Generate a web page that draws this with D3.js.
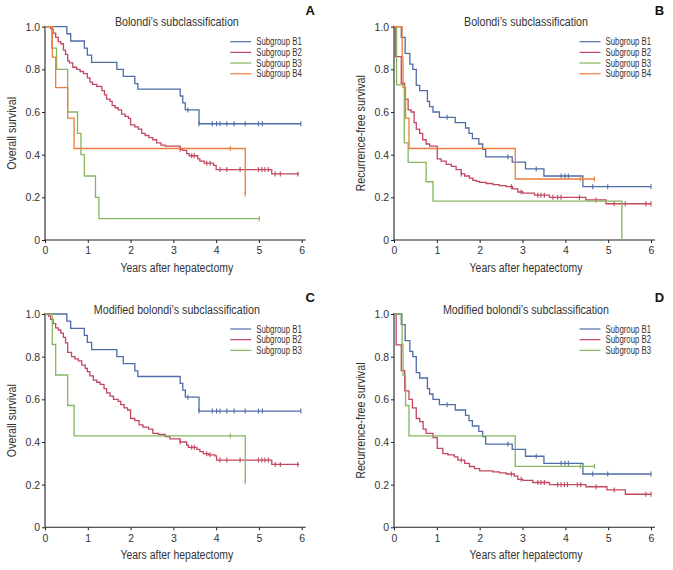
<!DOCTYPE html>
<html>
<head>
<meta charset="utf-8">
<script src="https://cdn.jsdelivr.net/npm/d3@7"></script>
<style>
  body { margin: 0; background: #fff; }
  svg text { font-family: "Liberation Sans", Arial, sans-serif; fill: #333; }
</style>
</head>
<body>
<div id="chart"></div>
<script>
// KM step points [years, survival]; last pair = end of follow-up
var A_B1 = [[0,1],[0.51,0.967],[0.6,0.933],[0.92,0.9],[0.99,0.867],[1.09,0.833],[1.68,0.8],[1.83,0.767],[2.1,0.733],[2.17,0.707],[3.16,0.675],[3.22,0.643],[3.28,0.61],[3.6,0.545],[5.98,0.545]];
var A_B1_cens = [3.34,3.6,3.91,4.01,4.09,4.25,4.42,4.68,4.99,5.08,5.98];

var A_B2 = [[0,1],[0.13,0.99],[0.19,0.97],[0.25,0.95],[0.31,0.93],[0.37,0.92],[0.43,0.89],[0.48,0.87],[0.53,0.84],[0.57,0.83],[0.65,0.81],[0.74,0.80],[0.82,0.79],[0.90,0.78],[0.99,0.76],[1.05,0.74],[1.11,0.73],[1.21,0.72],[1.33,0.70],[1.39,0.68],[1.44,0.66],[1.52,0.65],[1.57,0.63],[1.64,0.62],[1.71,0.61],[1.79,0.59],[1.87,0.58],[1.95,0.57],[2.0,0.54],[2.1,0.53],[2.18,0.52],[2.26,0.50],[2.34,0.49],[2.43,0.48],[2.52,0.47],[2.61,0.455],[2.71,0.445],[2.81,0.44],[3.16,0.425],[3.22,0.42],[3.31,0.405],[3.37,0.395],[3.57,0.38],[3.62,0.37],[3.72,0.36],[3.94,0.35],[4.0,0.33],[5.3,0.31],[5.94,0.31]];
var A_B2_cens = [3.16,3.43,3.49,3.78,3.86,4.09,4.25,4.56,4.99,5.07,5.14,5.22,5.38,5.5,5.91];

var A_B3 = [[0,1],[0.16,0.9],[0.27,0.8],[0.53,0.6],[0.76,0.5],[0.84,0.4],[0.92,0.3],[1.18,0.2],[1.26,0.1],[5.01,0.1]];
var A_B3_cens = [5.01];

var A_B4 = [[0,1],[0.17,0.857],[0.25,0.714],[0.53,0.571],[0.68,0.429],[4.68,0.214]];
var A_B4_cens = [4.33,4.68];

var B_B1 = [[0,1],[0.17,0.95],[0.26,0.875],[0.37,0.825],[0.44,0.80],[0.52,0.725],[0.6,0.70],[0.78,0.65],[0.83,0.625],[0.91,0.60],[1.06,0.575],[1.43,0.55],[1.67,0.525],[1.75,0.50],[1.83,0.475],[1.98,0.45],[2.07,0.425],[2.14,0.39],[2.76,0.365],[3.07,0.333],[3.5,0.30],[4.41,0.25],[6.0,0.25]];
var B_B1_cens = [1.24,2.66,3.32,3.9,3.99,4.07,4.64,4.99,6.0];

var B_B2 = [[0,1],[0.03,0.86],[0.17,0.735],[0.25,0.66],[0.33,0.61],[0.40,0.60],[0.47,0.55],[0.52,0.52],[0.6,0.50],[0.67,0.47],[0.75,0.45],[0.83,0.44],[1.01,0.38],[1.1,0.37],[1.22,0.355],[1.34,0.345],[1.45,0.33],[1.57,0.31],[1.65,0.30],[1.76,0.29],[1.84,0.28],[1.92,0.275],[2.0,0.27],[2.15,0.265],[2.31,0.26],[2.46,0.255],[2.62,0.25],[2.77,0.24],[2.89,0.225],[3.01,0.22],[3.28,0.21],[3.63,0.20],[4.48,0.188],[4.95,0.17],[6.0,0.17]];
var B_B2_cens = [1.57,2.74,2.97,3.36,3.43,3.51,3.71,3.82,3.9,4.33,4.72,5.14,5.4,5.88,6.0];

var B_B3 = [[0,1],[0.06,0.727],[0.24,0.455],[0.33,0.364],[0.75,0.273],[0.91,0.182],[5.32,0]];
var B_B3_cens = [];

var B_B4 = [[0,1],[0.19,0.857],[0.21,0.714],[0.27,0.571],[0.35,0.429],[2.83,0.286],[4.68,0.286]];
var B_B4_cens = [4.35,4.68];

var C_B2 = [[0,1],[0.08,0.99],[0.13,0.975],[0.19,0.955],[0.25,0.935],[0.31,0.925],[0.37,0.91],[0.43,0.89],[0.48,0.865],[0.53,0.82],[0.62,0.80],[0.70,0.79],[0.78,0.78],[0.86,0.76],[0.94,0.745],[0.99,0.73],[1.05,0.71],[1.13,0.69],[1.21,0.68],[1.29,0.67],[1.38,0.65],[1.44,0.63],[1.52,0.615],[1.60,0.60],[1.71,0.59],[1.77,0.575],[1.85,0.56],[1.93,0.55],[2.0,0.51],[2.1,0.50],[2.2,0.48],[2.29,0.47],[2.42,0.46],[2.52,0.44],[2.65,0.435],[2.81,0.425],[2.92,0.415],[3.16,0.40],[3.31,0.385],[3.35,0.375],[3.55,0.365],[3.62,0.355],[3.70,0.345],[3.82,0.34],[3.97,0.335],[4.01,0.315],[5.3,0.295],[5.94,0.295]];
var C_B2_cens = [3.16,3.43,3.49,3.78,3.86,4.09,4.25,4.56,4.99,5.07,5.14,5.22,5.38,5.5,5.91];

var D_B2 = [[0,1],[0.05,0.855],[0.17,0.735],[0.25,0.64],[0.35,0.60],[0.43,0.56],[0.52,0.51],[0.6,0.495],[0.68,0.46],[0.75,0.44],[0.91,0.42],[1.01,0.37],[1.14,0.345],[1.26,0.34],[1.41,0.33],[1.49,0.315],[1.65,0.30],[1.76,0.285],[1.88,0.275],[2.0,0.265],[2.31,0.26],[2.46,0.255],[2.62,0.25],[2.81,0.24],[2.89,0.225],[3.01,0.22],[3.24,0.21],[3.63,0.20],[4.48,0.19],[4.97,0.175],[5.4,0.155],[6.0,0.155]];
var D_B2_cens = [1.57,2.74,2.97,3.36,3.43,3.51,3.82,3.9,3.98,4.05,4.28,4.36,4.72,5.14,5.88,6.0];

var xTicks = [0,1,2,3,4,5,6];
var yTicks = [0,0.2,0.4,0.6,0.8,1.0];

var titleOld = "Bolondi\u2019s subclassification";
var titleNew = "Modified bolondi\u2019s subclassification";
var labelOS = "Overall survival";
var labelRFS = "Recurrence-free survival";
var labelX = "Years after hepatectomy";

var blue = "#4f6ca7", red = "#c2475f", green = "#86b660", orange = "#ef7c3b";

var panels = [
  {letter: "A", left: 45, right: 301.7, top: 26.7, bottom: 240, title: titleOld, ylab: labelOS,
   series: [["Subgroup B1", A_B1, A_B1_cens, blue], ["Subgroup B2", A_B2, A_B2_cens, red],
            ["Subgroup B3", A_B3, A_B3_cens, green], ["Subgroup B4", A_B4, A_B4_cens, orange]]},
  {letter: "B", left: 394, right: 651, top: 26.7, bottom: 240, title: titleOld, ylab: labelRFS,
   series: [["Subgroup B1", B_B1, B_B1_cens, blue], ["Subgroup B2", B_B2, B_B2_cens, red],
            ["Subgroup B3", B_B3, B_B3_cens, green], ["Subgroup B4", B_B4, B_B4_cens, orange]]},
  {letter: "C", left: 45, right: 301.7, top: 314, bottom: 527.3, title: titleNew, ylab: labelOS,
   series: [["Subgroup B1", A_B1, A_B1_cens, blue], ["Subgroup B2", C_B2, C_B2_cens, red],
            ["Subgroup B3", A_B4, A_B4_cens, green]]},
  {letter: "D", left: 394, right: 651, top: 314, bottom: 527.3, title: titleNew, ylab: labelRFS,
   series: [["Subgroup B1", B_B1, B_B1_cens, blue], ["Subgroup B2", D_B2, D_B2_cens, red],
            ["Subgroup B3", B_B4, B_B4_cens, green]]}
];

var svg = d3.select("#chart").append("svg")
  .attr("width", 673)
  .attr("height", 570);

svg.append("rect").attr("width", 673).attr("height", 570).attr("fill", "#fff");

function survAt(steps, t) {
  var v = steps[0][1];
  steps.forEach(function(p) { if (p[0] <= t) v = p[1]; });
  return v;
}

// the original uses a condensed face; squeeze the text horizontally
function squeeze(sel, f) {
  sel.each(function() {
    var w = this.getComputedTextLength();
    d3.select(this).attr("textLength", w * f).attr("lengthAdjust", "spacingAndGlyphs");
  });
}

panels.forEach(function(p) {
  var x = d3.scaleLinear().domain([0, 6]).range([p.left, p.right]);
  var y = d3.scaleLinear().domain([0, 1]).range([p.bottom, p.top]);
  var g = svg.append("g");

  // axes
  var xAxis = g.append("g")
    .attr("transform", `translate(0, ${p.bottom})`)
    .call(d3.axisBottom(x).tickValues(xTicks).tickSize(3).tickPadding(3.8).tickFormat(d3.format("d")));
  xAxis.select(".domain").remove();
  xAxis.append("line")
    .attr("x1", p.left).attr("x2", p.right + 4)
    .attr("stroke", "#222").attr("stroke-width", 1.1);

  var yAxis = g.append("g")
    .attr("transform", `translate(${p.left}, 0)`)
    .call(d3.axisLeft(y).tickValues(yTicks).tickSize(3).tickPadding(1.8)
      .tickFormat(function(d) { return d === 0 ? "0" : d.toFixed(1); }));
  yAxis.select(".domain").remove();
  yAxis.append("line")
    .attr("y1", p.bottom).attr("y2", p.top - 1)
    .attr("stroke", "#222").attr("stroke-width", 1.1);

  g.selectAll(".tick line").attr("stroke", "#222");
  g.selectAll(".tick text")
    .attr("font-size", "10.5px")
    .attr("fill", "#444");

  // titles and labels
  var cx = (p.left + p.right) / 2 + 3.5;
  g.append("text")
    .attr("x", cx).attr("y", p.top - 0.3)
    .attr("text-anchor", "middle")
    .attr("font-size", "12px")
    .text(p.title)
    .call(squeeze, 0.89);

  g.append("text")
    .attr("x", cx).attr("y", p.bottom + 32)
    .attr("text-anchor", "middle")
    .attr("font-size", "12px")
    .text(labelX)
    .call(squeeze, 0.87);

  g.append("text")
    .attr("transform", "rotate(-90)")
    .attr("x", -(p.top + p.bottom) / 2)
    .attr("y", p.left - 29)
    .attr("text-anchor", "middle")
    .attr("font-size", "12px")
    .text(p.ylab)
    .call(squeeze, 0.89);

  g.append("text")
    .attr("x", p.right + 8.5).attr("y", p.top - 11.8)
    .attr("text-anchor", "middle")
    .attr("font-size", "13px")
    .attr("font-weight", "bold")
    .style("fill", "#111")
    .text(p.letter);

  // curves
  var line = d3.line()
    .x(function(d) { return x(d[0]); })
    .y(function(d) { return y(d[1]); })
    .curve(d3.curveStepAfter);

  p.series.forEach(function(s) {
    g.append("path")
      .datum(s[1])
      .attr("fill", "none")
      .attr("stroke", s[3])
      .attr("stroke-width", 1.3)
      .attr("d", line);

    g.selectAll(null)
      .data(s[2])
      .enter()
      .append("line")
      .attr("x1", function(d) { return x(d); })
      .attr("x2", function(d) { return x(d); })
      .attr("y1", function(d) { return y(survAt(s[1], d)) - 2.5; })
      .attr("y2", function(d) { return y(survAt(s[1], d)) + 2.5; })
      .attr("stroke", s[3])
      .attr("stroke-width", 1.1);
  });

  // legend
  var lx = p.right - 71.5;
  var leg = g.selectAll(null)
    .data(p.series)
    .enter()
    .append("g")
    .attr("transform", function(d, i) { return `translate(${lx}, ${p.top + 15 + i * 10.67})`; });
  leg.append("line")
    .attr("x1", 0).attr("x2", 21)
    .attr("stroke", function(d) { return d[3]; })
    .attr("stroke-width", 1.2);
  leg.append("text")
    .attr("x", 26).attr("y", 3.6)
    .attr("font-size", "10px")
    .text(function(d) { return d[0]; })
    .call(squeeze, 0.78);
});
</script>
</body>
</html>
